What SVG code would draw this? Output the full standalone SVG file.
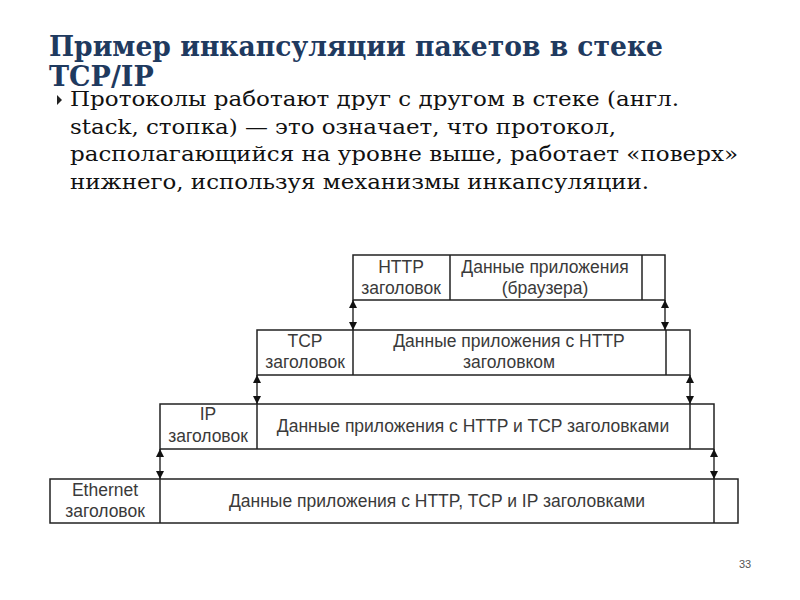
<svg xmlns="http://www.w3.org/2000/svg" width="800" height="600" viewBox="0 0 800 600">
<defs>
<marker id="ah" viewBox="0 0 8 8" refX="8" refY="4" markerWidth="8" markerHeight="8" markerUnits="userSpaceOnUse" orient="auto-start-reverse">
<path d="M0,0 L8,4 L0,8 z" fill="#111"/>
</marker>
</defs>
<style>
.title{font-family:"DejaVu Serif","Liberation Serif",serif;font-weight:bold;font-size:27px;fill:#1f3a5f}
.body{font-family:"DejaVu Serif","Liberation Serif",serif;font-size:21px;fill:#111}
.box{fill:#fff;stroke:#222;stroke-width:1.5}
.div{stroke:#222;stroke-width:1.5}
.lbl{font-family:"Liberation Sans",Arial,sans-serif;font-size:17.5px;fill:#3a3a3a;text-anchor:middle}
.conn{stroke:#111;stroke-width:1.3;fill:none}
.pg{font-family:"Liberation Sans",Arial,sans-serif;font-size:11px;fill:#555}
</style>
<rect width="800" height="600" fill="#fff"/>
<text class="title" x="49" y="56" textLength="614" lengthAdjust="spacingAndGlyphs">Пример инкапсуляции пакетов в стеке</text>
<text class="title" x="49" y="86">TCP/IP</text>
<path d="M57,95 L62,100 L57,105 z" fill="#222"/>
<text class="body" x="70" y="106" textLength="609" lengthAdjust="spacingAndGlyphs">Протоколы работают друг с другом в стеке (англ.</text>
<text class="body" x="70" y="134" textLength="546" lengthAdjust="spacingAndGlyphs">stack, стопка) — это означает, что протокол,</text>
<text class="body" x="70" y="161" textLength="668" lengthAdjust="spacingAndGlyphs">располагающийся на уровне выше, работает «поверх»</text>
<text class="body" x="70" y="189" textLength="579" lengthAdjust="spacingAndGlyphs">нижнего, используя механизмы инкапсуляции.</text>

<g id="http">
<rect class="box" x="353" y="255" width="312" height="45"/>
<line class="div" x1="450" y1="255" x2="450" y2="300"/>
<line class="div" x1="642" y1="255" x2="642" y2="300"/>
<text class="lbl" x="401" y="273">HTTP</text>
<text class="lbl" x="401" y="294">заголовок</text>
<text class="lbl" x="545" y="273">Данные приложения</text>
<text class="lbl" x="545" y="294">(браузера)</text>
</g>
<g id="tcp">
<rect class="box" x="257" y="330" width="433" height="45"/>
<line class="div" x1="353" y1="330" x2="353" y2="375"/>
<line class="div" x1="666" y1="330" x2="666" y2="375"/>
<text class="lbl" x="305" y="347">TCP</text>
<text class="lbl" x="305" y="368">заголовок</text>
<text class="lbl" x="509" y="347">Данные приложения с HTTP</text>
<text class="lbl" x="509" y="368">заголовком</text>
</g>
<g id="ip">
<rect class="box" x="160" y="404" width="554" height="45"/>
<line class="div" x1="257" y1="404" x2="257" y2="449"/>
<line class="div" x1="690" y1="404" x2="690" y2="449"/>
<text class="lbl" x="208" y="420">IP</text>
<text class="lbl" x="208" y="442">заголовок</text>
<text class="lbl" x="473" y="432">Данные приложения с HTTP  и TCP заголовками</text>
</g>
<g id="ethernet">
<rect class="box" x="50" y="479" width="688" height="44"/>
<line class="div" x1="160" y1="479" x2="160" y2="523"/>
<line class="div" x1="714" y1="479" x2="714" y2="523"/>
<text class="lbl" x="105" y="496">Ethernet</text>
<text class="lbl" x="105" y="517">заголовок</text>
<text class="lbl" x="437" y="507">Данные приложения с HTTP, TCP и IP заголовками</text>
</g>
<g id="connectors">
<line class="conn" x1="353" y1="300" x2="353" y2="330" marker-start="url(#ah)" marker-end="url(#ah)"/>
<line class="conn" x1="665" y1="300" x2="665" y2="330" marker-start="url(#ah)" marker-end="url(#ah)"/>
<line class="conn" x1="257" y1="375" x2="257" y2="404" marker-start="url(#ah)" marker-end="url(#ah)"/>
<line class="conn" x1="690" y1="375" x2="690" y2="404" marker-start="url(#ah)" marker-end="url(#ah)"/>
<line class="conn" x1="160" y1="449" x2="160" y2="479" marker-start="url(#ah)" marker-end="url(#ah)"/>
<line class="conn" x1="714" y1="449" x2="714" y2="479" marker-start="url(#ah)" marker-end="url(#ah)"/>
</g>
<text class="pg" x="745" y="568" text-anchor="middle">33</text>
</svg>
